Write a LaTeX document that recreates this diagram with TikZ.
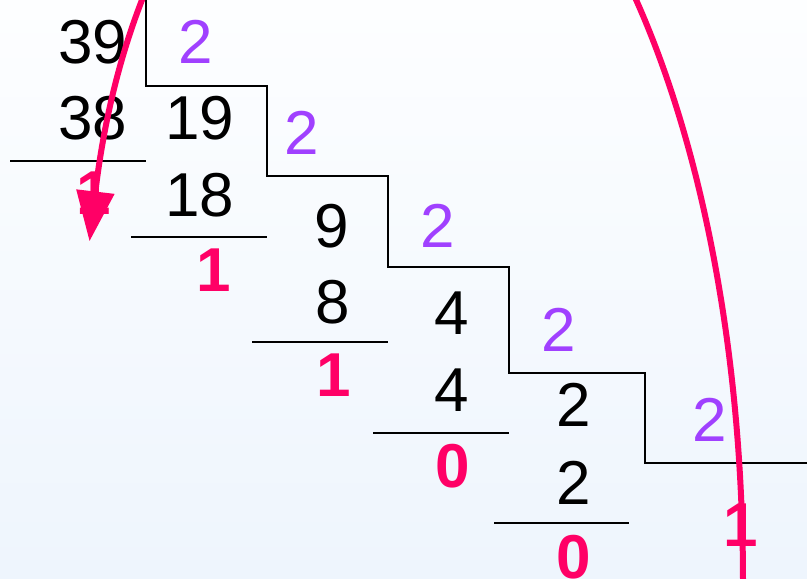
\documentclass[tikz,border=0pt]{standalone}
\usepackage{fontspec}
\setmainfont{Liberation Sans}
\usetikzlibrary{arrows.meta}
\definecolor{numpurple}{RGB}{160,64,255}
\definecolor{numred}{RGB}{255,0,102}
\definecolor{bgtop}{RGB}{253,254,255}
\definecolor{bgbot}{RGB}{238,245,253}
\tikzset{
  num/.style={inner sep=0pt, font=\fontsize{62}{62}\selectfont, text=black},
  divisor/.style={num, text=numpurple},
  remainder/.style={num, text=numred, font=\fontsize{62}{62}\selectfont\bfseries},
  rule/.style={draw=black, line width=1.5pt},
  arc/.style={draw=numred, line width=6pt, -{Triangle[width=37pt,length=50pt]}, shorten >=-50pt}
}
\begin{document}
\begin{tikzpicture}[x=1pt,y=-1pt]
\useasboundingbox (0,0) rectangle (807,579);
\fill[top color=bgtop, bottom color=bgbot] (0,0) rectangle (807,579);
% staircase
\draw[rule] (146,0) -- (146,86) -- (267,86) -- (267,176) -- (388,176) -- (388,267)
  -- (509,267) -- (509,373) -- (645,373) -- (645,463) -- (807,463);
% underlines
\draw[rule] (10,161) -- (146,161);
\draw[rule] (131,237) -- (267,237);
\draw[rule] (252,342) -- (388,342);
\draw[rule] (373,433) -- (509,433);
\draw[rule] (494,523) -- (629,523);
% numbers
\node[num] (n39) at (93,42) {39};
\node[num] (n38) at (93,118) {38};
\node[divisor] (d1) at (196,42) {2};
\node[num] (n19) at (200,118) {19};
\node[num] (n18) at (200,195) {18};
\node[divisor] (d2) at (302,133) {2};
\node[num] (n9) at (332,226) {9};
\node[num] (n8) at (333,302) {8};
\node[divisor] (d3) at (438,226) {2};
\node[num] (n4a) at (452,313) {4};
\node[num] (n4b) at (452,390) {4};
\node[divisor] (d4) at (559,330) {2};
\node[num] (n2a) at (574,405) {2};
\node[num] (n2b) at (574,483) {2};
\node[divisor] (d5) at (710,420) {2};
% remainders
\node[remainder] (r1) at (94,193) {1};
\node[remainder] (r2) at (214,270) {1};
\node[remainder] (r3) at (334,375) {1};
\node[remainder] (r4) at (453,466) {0};
\node[remainder] (r5) at (574,557) {0};
\node[remainder] (r6) at (741,525) {1};
% arrow
\coordinate (arcstart) at (743,582);
\coordinate (arcapex) at (390,-230);
\coordinate (arcend) at (95.4,191.6);
\draw[arc] (arcstart) .. controls (743,133.5) and (585,-230) .. (arcapex)
  .. controls (247.5,-230) and (124.5,-54) .. (arcend);
\end{tikzpicture}
\end{document}
